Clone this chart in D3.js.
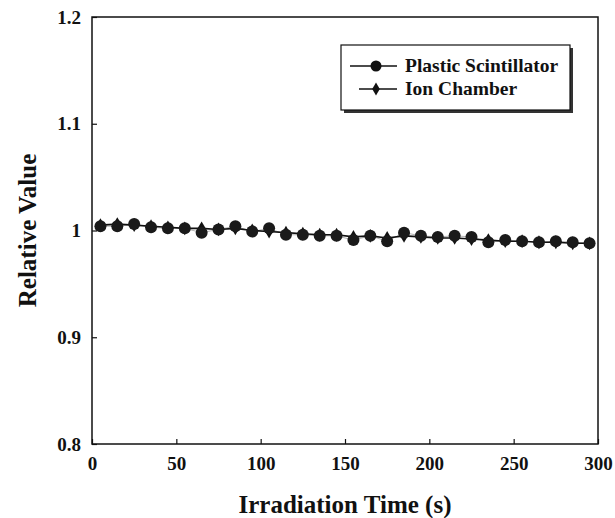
<!DOCTYPE html>
<html lang="en">
<head>
<meta charset="utf-8">
<style>
  body { margin: 0; background: #fff; }
  text { font-family: "Liberation Serif", "Times New Roman", serif; font-weight: bold; fill: #111; }
</style>
</head>
<body>
<script src="https://cdn.jsdelivr.net/npm/d3@7"></script>
<script>
// irradiation time (s)
var times = [5, 15, 25, 35, 45, 55, 65, 75, 85, 95, 105, 115, 125, 135, 145,
             155, 165, 175, 185, 195, 205, 215, 225, 235, 245, 255, 265, 275, 285, 295];
// plastic scintillator relative value
var scint = [1.004, 1.004, 1.006, 1.003, 1.002, 1.002, 0.998, 1.001, 1.004, 0.999,
             1.002, 0.996, 0.996, 0.995, 0.995, 0.991, 0.995, 0.990, 0.998, 0.995,
             0.994, 0.995, 0.994, 0.989, 0.991, 0.990, 0.989, 0.990, 0.989, 0.988];
// ion chamber relative value
var ion = [1.005, 1.006, 1.005, 1.004, 1.003, 1.002, 1.002, 1.001, 1.002, 1.000,
           0.999, 0.998, 0.997, 0.996, 0.996, 0.994, 0.995, 0.993, 0.995, 0.994,
           0.993, 0.993, 0.992, 0.991, 0.990, 0.990, 0.989, 0.989, 0.988, 0.988];
var xTicks = [0, 50, 100, 150, 200, 250, 300];
var yTicks = [0.8, 0.9, 1, 1.1, 1.2];
var seriesNames = ["Plastic Scintillator", "Ion Chamber"];

var W = 615, H = 518,
    m = {left: 92, top: 17, right: 17, bottom: 74};

var svg = d3.select("body").append("svg")
    .attr("width", W).attr("height", H);

var x = d3.scaleLinear().domain([0, 300]).range([m.left, W - m.right]);
var y = d3.scaleLinear().domain([0.8, 1.2]).range([H - m.bottom, m.top]);

// ticks (inside)
var xAxis = svg.append("g")
    .attr("transform", "translate(0," + (H - m.bottom) + ")")
    .call(d3.axisBottom(x).tickValues(xTicks).tickSize(-5).tickPadding(13)
      .tickFormat(d3.format("d")));
xAxis.select(".domain").remove();
xAxis.selectAll("line").attr("stroke", "#111").attr("stroke-width", 1.2);
xAxis.selectAll("text").style("font-size", "19px");

var yAxis = svg.append("g")
    .attr("transform", "translate(" + m.left + ",0)")
    .call(d3.axisLeft(y).tickValues(yTicks).tickSize(-5).tickPadding(11)
      .tickFormat(function(d){ return d === 1 ? "1" : d3.format(".1f")(d); }));
yAxis.select(".domain").remove();
yAxis.selectAll("line").attr("stroke", "#111").attr("stroke-width", 1.2);
yAxis.selectAll("text").style("font-size", "19px");

// frame
svg.append("rect")
    .attr("x", m.left).attr("y", m.top)
    .attr("width", W - m.right - m.left)
    .attr("height", H - m.bottom - m.top)
    .attr("fill", "none").attr("stroke", "#111").attr("stroke-width", 1.5);

// lines
var line = d3.line().x(function(d){ return x(d[0]); }).y(function(d){ return y(d[1]); });
svg.append("path")
    .datum(times.map(function(t, i){ return [t, ion[i]]; }))
    .attr("d", line).attr("fill", "none").attr("stroke", "#111").attr("stroke-width", 1.6);
svg.append("path")
    .datum(times.map(function(t, i){ return [t, scint[i]]; }))
    .attr("d", line).attr("fill", "none").attr("stroke", "#111").attr("stroke-width", 0.8)
    .attr("stroke-opacity", 0.4);

var diamond = d3.symbol().type(d3.symbolDiamond).size(55);

// ion chamber markers
svg.selectAll("path.ion").data(ion).enter().append("path")
    .attr("class", "ion")
    .attr("transform", function(d, i){ return "translate(" + x(times[i]) + "," + y(d) + ")"; })
    .attr("d", diamond).attr("fill", "#111");

// scintillator markers
svg.selectAll("circle.sc").data(scint).enter().append("circle")
    .attr("class", "sc")
    .attr("cx", function(d, i){ return x(times[i]); })
    .attr("cy", function(d){ return y(d); })
    .attr("r", 6).attr("fill", "#1a1a1a");

// legend
var lg = svg.append("g").attr("transform", "translate(341,45)");
lg.append("rect").attr("x", 3).attr("y", 3).attr("width", 229).attr("height", 65).attr("fill", "#333");
lg.append("rect").attr("width", 229).attr("height", 65).attr("fill", "#fff")
    .attr("stroke", "#111").attr("stroke-width", 1.2);
seriesNames.forEach(function(name, i){
  var yy = 21 + i * 23;
  lg.append("line").attr("x1", i ? 18 : 9).attr("x2", 56).attr("y1", yy).attr("y2", yy)
      .attr("stroke", "#111").attr("stroke-width", 1.3);
  if (i === 0) {
    lg.append("circle").attr("cx", 35).attr("cy", yy).attr("r", 5.5).attr("fill", "#111");
  } else {
    lg.append("path").attr("transform", "translate(35," + yy + ")")
        .attr("d", d3.symbol().type(d3.symbolDiamond).size(50)).attr("fill", "#111");
  }
  lg.append("text").attr("x", 64).attr("y", yy + 6).style("font-size", "19.5px").text(name);
});

// axis titles
svg.append("text")
    .attr("x", (m.left + W - m.right) / 2).attr("y", 513)
    .attr("text-anchor", "middle").style("font-size", "25px")
    .text("Irradiation Time (s)");
svg.append("text")
    .attr("transform", "translate(36," + y(1) + ") rotate(-90)")
    .attr("text-anchor", "middle").style("font-size", "25px")
    .text("Relative Value");
</script>
</body>
</html>
